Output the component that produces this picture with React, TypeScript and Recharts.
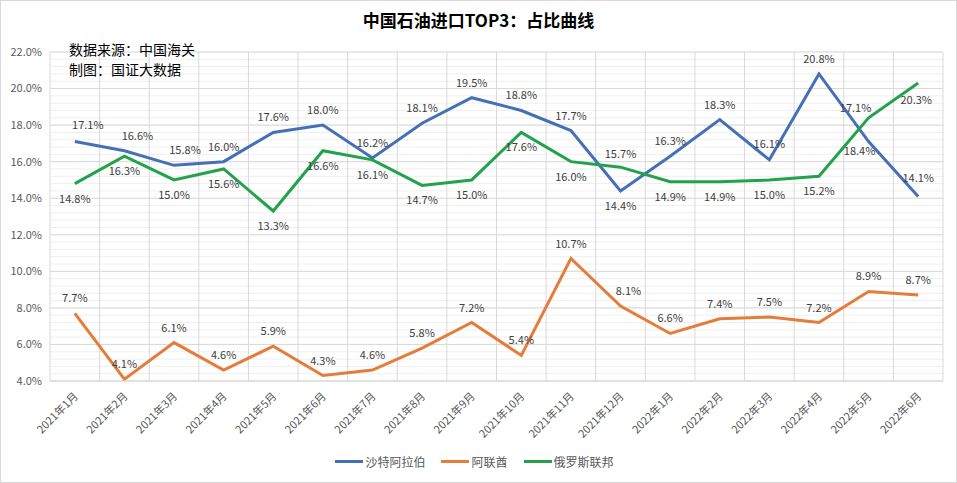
import { LineChart, Line, XAxis, YAxis, CartesianGrid, Legend } from "recharts";

const months = [
  "2021年1月", "2021年2月", "2021年3月", "2021年4月", "2021年5月", "2021年6月",
  "2021年7月", "2021年8月", "2021年9月", "2021年10月", "2021年11月", "2021年12月",
  "2022年1月", "2022年2月", "2022年3月", "2022年4月", "2022年5月", "2022年6月",
];
const saudi = [17.1, 16.6, 15.8, 16.0, 17.6, 18.0, 16.2, 18.1, 19.5, 18.8, 17.7, 14.4, 16.3, 18.3, 16.1, 20.8, 17.1, 14.1];
const uae = [7.7, 4.1, 6.1, 4.6, 5.9, 4.3, 4.6, 5.8, 7.2, 5.4, 10.7, 8.1, 6.6, 7.4, 7.5, 7.2, 8.9, 8.7];
const russia = [14.8, 16.3, 15.0, 15.6, 13.3, 16.6, 16.1, 14.7, 15.0, 17.6, 16.0, 15.7, 14.9, 14.9, 15.0, 15.2, 18.4, 20.3];
const yTicks = [4, 6, 8, 10, 12, 14, 16, 18, 20, 22];

const data = months.map((m, i) => ({ month: m, saudi: saudi[i], uae: uae[i], russia: russia[i] }));

const FONT = "'Noto Sans CJK SC', 'Noto Sans', sans-serif";

const series = [
  { key: "saudi", name: "沙特阿拉伯", color: "#4670B5" },
  { key: "uae", name: "阿联酋", color: "#E47C3A" },
  { key: "russia", name: "俄罗斯联邦", color: "#23A24D" },
];

// label nudges (dx, dy from the point) where the default above/below placement differs
const labelShift = (key: string, index: number): [number, number] => {
  if (key === "saudi") {
    if (index === 11) return [0, 19];
    if (index === 0) return [13, -13];
    if (index === 1) return [13, -11];
    if (index === 2) return [11, -11];
    if (index === 14) return [0, -12];
    if (index === 16) return [-13, -30];
    if (index === 17) return [0, -14];
    return [0, -11];
  }
  if (key === "russia") {
    if (index === 11) return [0, -9];
    if (index === 16) return [-9, 37];
    if (index === 17) return [-2, 21];
    return [0, 19];
  }
  if (index === 11) return [8, -11];
  return [0, -11];
};

const makeLabel = (key: string) => (props: any) => {
  const { x, y, value, index } = props;
  const [dx, dy] = labelShift(key, index);
  return (
    <text key={index} x={x + dx} y={y + dy} textAnchor="middle" fontSize={11} fill="#404040" fontFamily={FONT}>
      {value.toFixed(1)}%
    </text>
  );
};

const XTick = (props: any) => {
  const { x, y, payload } = props;
  return (
    <text x={x + 4} y={y + 8} transform={`rotate(-45, ${x + 4}, ${y + 8})`} textAnchor="end" fontSize={11} fill="#595959" fontFamily={FONT}>
      {payload.value}
    </text>
  );
};

const LegendBox = () => (
  <div style={{ display: "flex", justifyContent: "center", gap: 16, fontFamily: FONT, fontSize: 12, color: "#595959", height: 20, alignItems: "center" }}>
    {series.map((s) => (
      <div key={s.key} style={{ display: "flex", alignItems: "center" }}>
        <div style={{ width: 28, height: 3, background: s.color, marginRight: 2 }} />
        <span>{s.name}</span>
      </div>
    ))}
  </div>
);

export default function App() {
  return (
    <div style={{ position: "absolute", left: 0, top: 0, width: 957, height: 483, boxSizing: "border-box", border: "1px solid #d9d9d9", background: "#fff" }}>
      <div style={{ position: "absolute", top: 6, width: "100%", textAlign: "center", fontFamily: FONT, fontWeight: "bold", fontSize: 17, color: "#000" }}>
        中国石油进口TOP3：占比曲线
      </div>
      <div style={{ position: "absolute", left: 68, top: 38, fontFamily: FONT, fontSize: 14, lineHeight: "20px", color: "#000", zIndex: 2 }}>
        数据来源：中国海关<br />制图：国证大数据
      </div>
      <LineChart width={955} height={481} data={data} margin={{ top: 51, right: 13, left: 5, bottom: 11 }}>
        <CartesianGrid
          vertical={false}
          stroke="#efefef"
          horizontalCoordinatesGenerator={({ offset }: any) => {
            const out: number[] = [];
            for (let i = 0; i <= 45; i++) out.push(offset.top + (offset.height * i) / 45);
            return out;
          }}
        />
        <CartesianGrid
          stroke="#d9d9d9"
          verticalCoordinatesGenerator={({ offset }: any) => {
            const out: number[] = [];
            for (let i = 0; i <= months.length; i++) out.push(offset.left + (offset.width * i) / months.length);
            return out;
          }}
        />
        <XAxis dataKey="month" scale="band" interval={0} height={70} tick={<XTick />} tickLine={false} axisLine={{ stroke: "#d9d9d9" }} />
        <YAxis
          domain={[4, 22]}
          ticks={yTicks}
          width={44}
          tickSize={0}
          tickMargin={8}
          axisLine={false}
          tickLine={false}
          tickFormatter={(v: number) => `${v.toFixed(1)}%`}
          tick={{ fontSize: 11, fill: "#595959", fontFamily: FONT }}
        />
        <Legend verticalAlign="bottom" content={<LegendBox />} />
        {series.map((s) => (
          <Line
            key={s.key}
            dataKey={s.key}
            name={s.name}
            type="linear"
            stroke={s.color}
            strokeWidth={3}
            dot={false}
            isAnimationActive={false}
            label={makeLabel(s.key)}
          />
        ))}
      </LineChart>
    </div>
  );
}
